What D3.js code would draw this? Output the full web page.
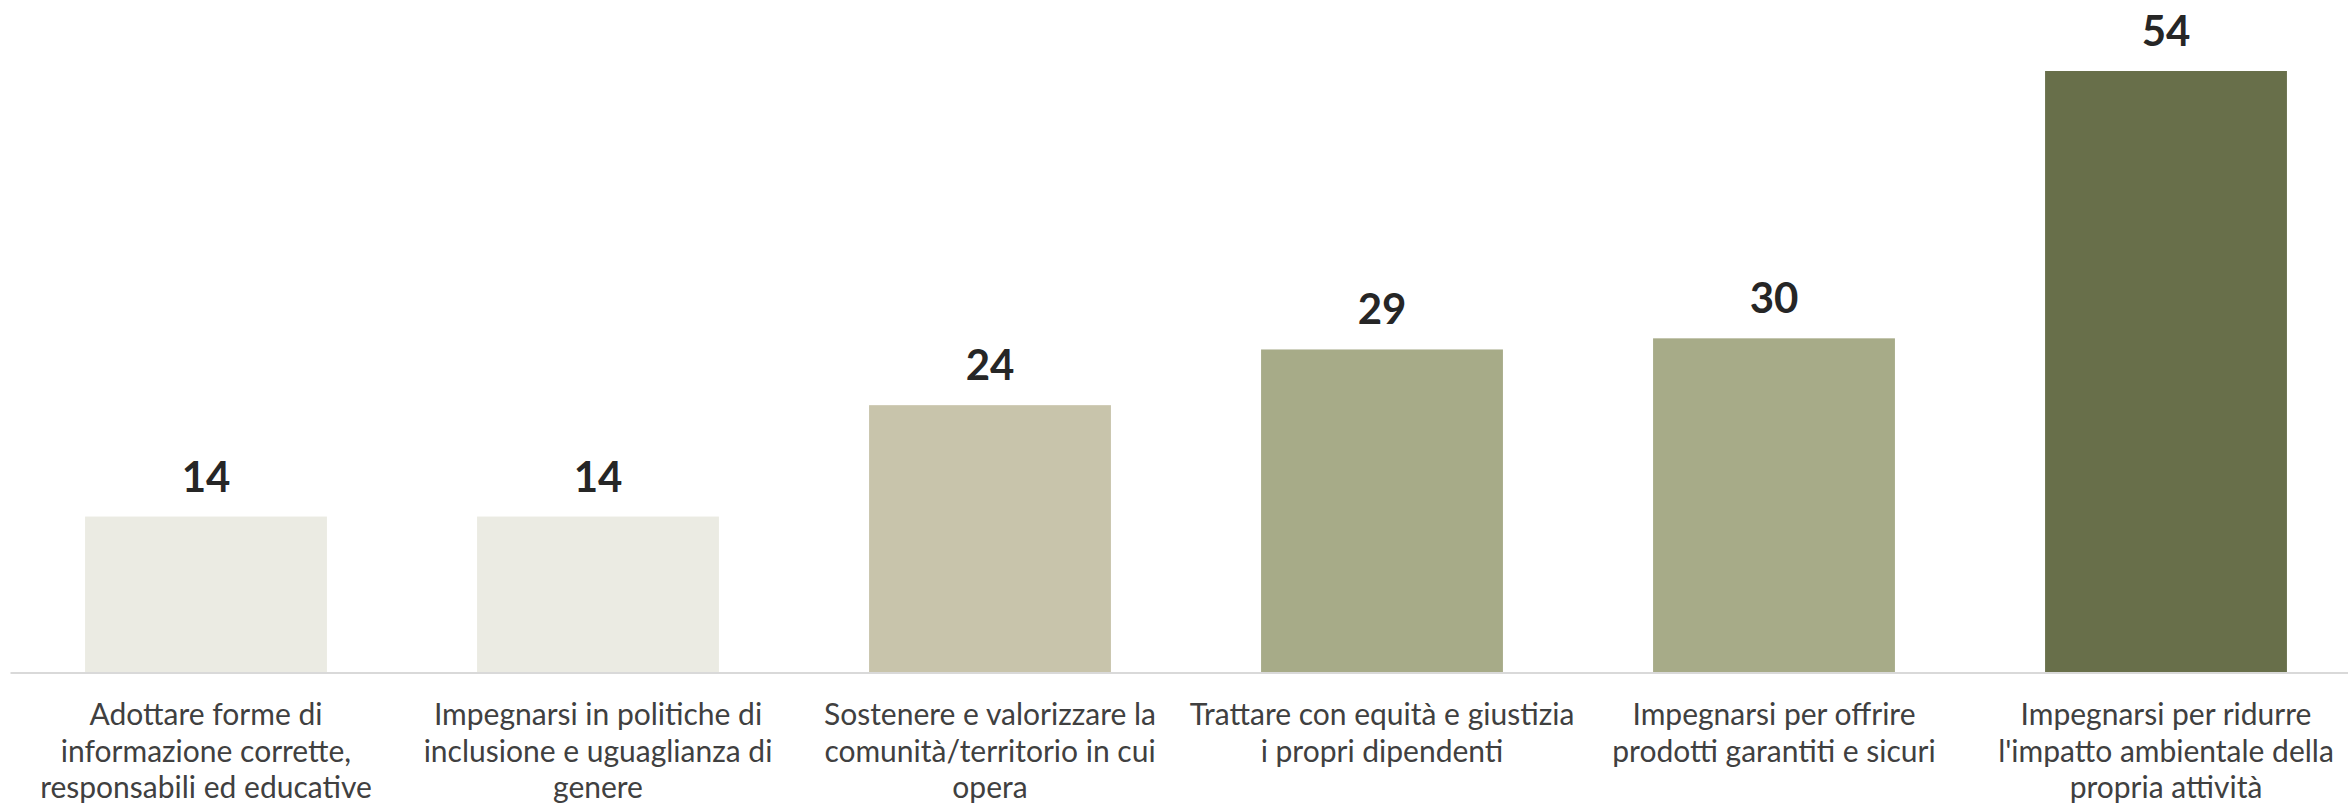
<!DOCTYPE html>
<html>
<head>
<meta charset="utf-8">
<script src="https://cdn.jsdelivr.net/npm/d3@7"></script>
<style>
  html, body { margin: 0; padding: 0; background: #ffffff; }
  svg { display: block; }
</style>
</head>
<body>
<svg id="chart" width="2348" height="808"></svg>
<script>
// ---- data ----
const categories = [
  "Adottare forme di\ninformazione corrette,\nresponsabili ed educative",
  "Impegnarsi in politiche di\ninclusione e uguaglianza di\ngenere",
  "Sostenere e valorizzare la\ncomunità/territorio in cui\nopera",
  "Trattare con equità e giustizia\ni propri dipendenti",
  "Impegnarsi per offrire\nprodotti garantiti e sicuri",
  "Impegnarsi per ridurre\nl'impatto ambientale della\npropria attività"
];
const values = [14, 14, 24, 29, 30, 54];
const barColors = ["#EBEBE3", "#EBEBE3", "#C8C4AB", "#A7AB88", "#A7AB88", "#686F4A"];

// ---- layout ----
const W = 2348, H = 808;
const baseY = 672.5;
const svg = d3.select("#chart");

const x = d3.scaleBand()
  .domain(d3.range(categories.length))
  .range([10, 2362])
  .paddingInner(0.383)
  .paddingOuter(0.1915);

const y = d3.scaleLinear()
  .domain([0, 54])
  .range([baseY, 71]);

// bars
svg.append("g").selectAll("rect")
  .data(values)
  .join("rect")
  .attr("x", (d, i) => x(i))
  .attr("y", d => y(d))
  .attr("width", x.bandwidth())
  .attr("height", d => y(0) - y(d))
  .attr("fill", (d, i) => barColors[i]);

// axis line
const xAxis = d3.axisBottom(x).tickSize(0).tickFormat("");
const axisG = svg.append("g")
  .attr("transform", `translate(0,${baseY})`)
  .call(xAxis);
axisG.select(".domain")
  .attr("stroke", "#D9D9D9")
  .attr("stroke-width", 2);

// value labels
svg.append("g").selectAll("text")
  .data(values)
  .join("text")
  .attr("x", (d, i) => x(i) + x.bandwidth() / 2)
  .attr("y", d => y(d) - 25)
  .attr("text-anchor", "middle")
  .attr("font-family", "Lato, 'Noto Sans', sans-serif")
  .attr("font-weight", "bold")
  .attr("font-size", 42)
  .attr("fill", "#262626")
  .text(d => d);

// category labels
const labG = svg.append("g");
categories.forEach((c, i) => {
  const t = labG.append("text")
    .attr("x", x(i) + x.bandwidth() / 2)
    .attr("y", 725)
    .attr("text-anchor", "middle")
    .attr("font-family", "Lato, 'Noto Sans', sans-serif")
    .attr("font-size", 30)
    .attr("fill", "#404040");
  c.split("\n").forEach((line, k) => {
    t.append("tspan")
      .attr("x", x(i) + x.bandwidth() / 2)
      .attr("dy", k === 0 ? 0 : 36.5)
      .text(line);
  });
});
</script>
</body>
</html>
